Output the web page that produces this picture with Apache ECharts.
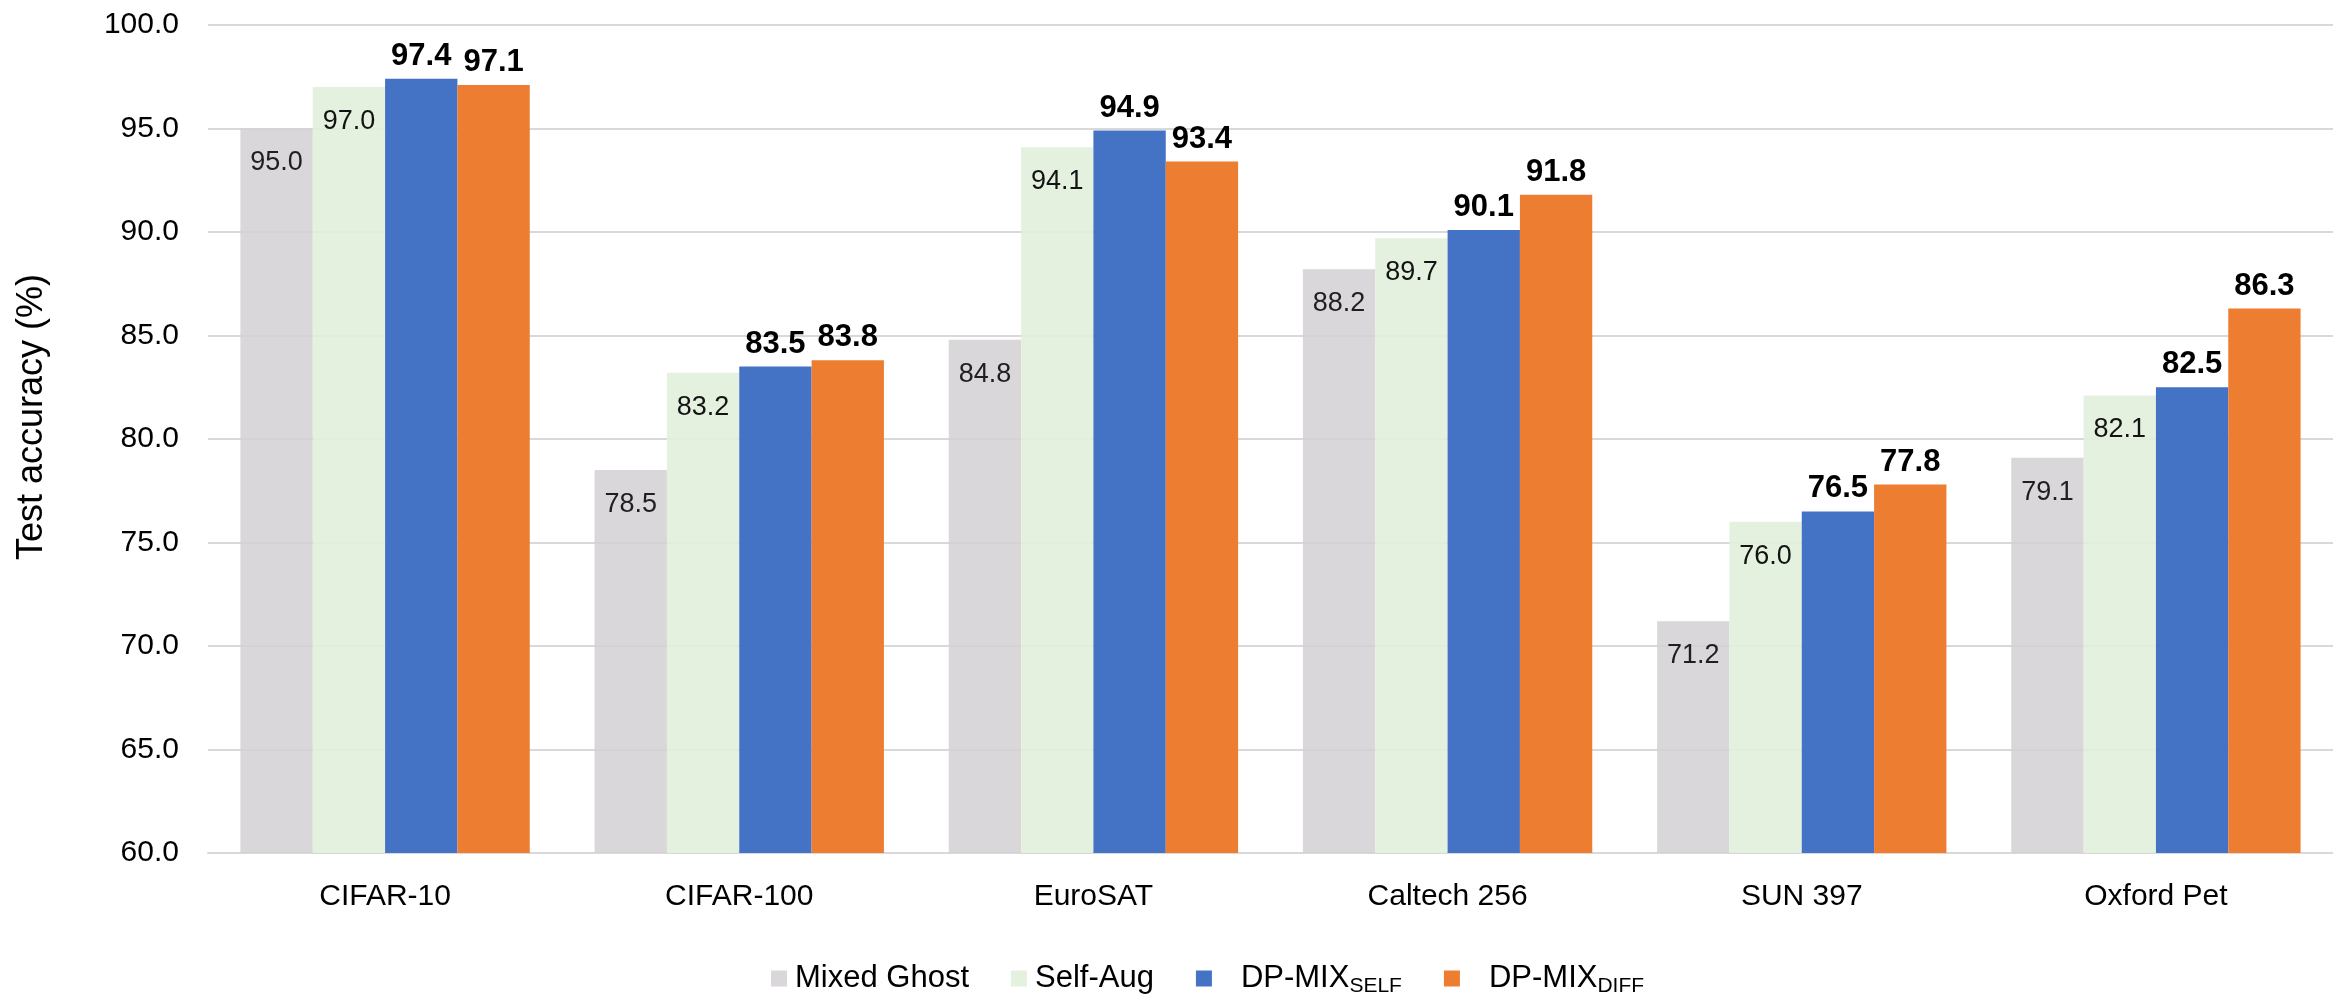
<!DOCTYPE html>
<html>
<head>
<meta charset="utf-8">
<script src="https://cdn.jsdelivr.net/npm/echarts@6/dist/echarts.min.js"></script>
<style>
  html, body { margin: 0; padding: 0; background: #ffffff; }
  #chart { width: 2333px; height: 1006px; }
</style>
</head>
<body>
<div id="chart"></div>
<script>
// Datasets on the x axis
const categories = ['CIFAR-10', 'CIFAR-100', 'EuroSAT', 'Caltech 256', 'SUN 397', 'Oxford Pet'];

// Test accuracy (%) per method
const mixedGhost = [95.0, 78.5, 84.8, 88.2, 71.2, 79.1];
const selfAug    = [97.0, 83.2, 94.1, 89.7, 76.0, 82.1];
const dpMixSelf  = [97.4, 83.5, 94.9, 90.1, 76.5, 82.5];
const dpMixDiff  = [97.1, 83.8, 93.4, 91.8, 77.8, 86.3];

// Y axis range
const yMin = 60;
const yMax = 100;
const yStep = 5;

const FONT = '"Liberation Sans", Arial, Helvetica, sans-serif';

const fmt1 = v => Number(v).toFixed(1);

function plainLabel() {
  return {
    show: true,
    position: 'insideTop',
    distance: 21,
    color: '#000',
    fontFamily: FONT,
    fontSize: 27,
    formatter: p => fmt1(p.value)
  };
}

function boldLabel() {
  return {
    show: true,
    position: 'top',
    distance: 7,
    color: '#000',
    fontFamily: FONT,
    fontSize: 31,
    fontWeight: 'bold',
    formatter: p => fmt1(p.value)
  };
}

const chart = echarts.init(document.getElementById('chart'), null, { renderer: 'canvas' });

chart.setOption({
  backgroundColor: '#ffffff',
  animation: false,
  grid: { left: 208, top: 25, height: 828, width: 2132, containLabel: false },
  legend: {
    top: 958,
    left: 766,
    itemWidth: 16,
    itemHeight: 16,
    itemGap: 42,
    icon: 'rect',
    textStyle: {
      fontFamily: FONT,
      fontSize: 31,
      color: '#000',
      padding: [0, 0, 0, 3],
      rich: {
        main: { fontFamily: FONT, fontSize: 31, color: '#000', padding: [0, 0, 0, 21] },
        sub: { fontFamily: FONT, fontSize: 21, color: '#000', padding: [16, 0, 0, 0] }
      }
    },
    formatter: name => {
      if (name === 'DP-MIX_SELF') return '{main|DP-MIX}{sub|SELF}';
      if (name === 'DP-MIX_DIFF') return '{main|DP-MIX}{sub|DIFF}';
      return name;
    },
    data: ['Mixed Ghost', 'Self-Aug', 'DP-MIX_SELF', 'DP-MIX_DIFF']
  },
  xAxis: {
    type: 'category',
    data: categories,
    axisTick: { show: false },
    axisLine: { show: true, lineStyle: { color: '#d9d9d9', width: 2 } },
    axisLabel: { fontFamily: FONT, fontSize: 30, color: '#000', margin: 29 }
  },
  yAxis: {
    type: 'value',
    min: yMin,
    max: yMax,
    interval: yStep,
    name: 'Test accuracy (%)',
    nameLocation: 'middle',
    nameGap: 158,
    nameRotate: 90,
    nameTextStyle: { fontFamily: FONT, fontSize: 36, color: '#000', padding: [0, 0, 0, 44] },
    axisLine: { show: false },
    axisTick: { show: false },
    axisLabel: { fontFamily: FONT, fontSize: 30, color: '#000', margin: 29, formatter: v => fmt1(v) },
    splitLine: { show: true, lineStyle: { color: '#d9d9d9', width: 2 } }
  },
  series: [
    {
      name: 'Mixed Ghost', type: 'bar', data: mixedGhost,
      barGap: '0%', barCategoryGap: '18.3%',
      itemStyle: { color: '#d3d0d3', opacity: 0.86 },
      label: plainLabel()
    },
    {
      name: 'Self-Aug', type: 'bar', data: selfAug,
      itemStyle: { color: '#e3f0dc', opacity: 0.92 },
      label: plainLabel()
    },
    {
      name: 'DP-MIX_SELF', type: 'bar', data: dpMixSelf,
      itemStyle: { color: '#4472c4' },
      label: boldLabel()
    },
    {
      name: 'DP-MIX_DIFF', type: 'bar', data: dpMixDiff,
      itemStyle: { color: '#ed7d31' },
      label: boldLabel()
    }
  ]
});
</script>
</body>
</html>
